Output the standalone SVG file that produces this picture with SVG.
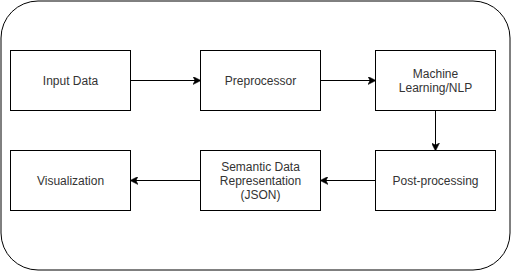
<svg xmlns="http://www.w3.org/2000/svg" width="511" height="271" viewBox="0 0 511 271">
  <style>
    .box { fill: #ffffff; stroke: #000000; stroke-width: 1; }
    .label { font-family: "Liberation Sans", Arial, sans-serif; font-size: 12px; fill: #333333; text-anchor: middle; }
    .edge { fill: none; stroke: #000000; stroke-width: 1; }
  </style>
  <defs>
    <marker id="arrow" viewBox="0 0 8 8" refX="7.5" refY="4" markerWidth="8" markerHeight="8" markerUnits="userSpaceOnUse" orient="auto">
      <path d="M 0 0 L 8 4 L 0 8 L 2 4 Z" fill="#000000" stroke="#000000" stroke-width="0.5"/>
    </marker>
  </defs>
  <rect width="511" height="271" fill="#ffffff"/>
  <!-- enclosing frame -->
  <g id="frame">
    <rect x="1" y="1" width="509" height="269" rx="37" ry="37" class="box"/>
  </g>
  <g id="input-data">
    <rect x="10.5" y="50.5" width="120" height="60" class="box"/>
    <text x="70.5" y="84.5" class="label">Input Data</text>
  </g>
  <g id="preprocessor">
    <rect x="200.5" y="50.5" width="120" height="60" class="box"/>
    <text x="260.5" y="84.5" class="label">Preprocessor</text>
  </g>
  <g id="ml-nlp">
    <rect x="375.5" y="50.5" width="120" height="60" class="box"/>
    <text x="435.5" y="77.5" class="label">Machine</text>
    <text x="435.5" y="91.5" class="label">Learning/NLP</text>
  </g>
  <g id="post-processing">
    <rect x="375.5" y="150.5" width="120" height="60" class="box"/>
    <text x="435.5" y="184.5" class="label">Post-processing</text>
  </g>
  <g id="semantic-data">
    <rect x="200.5" y="150.5" width="120" height="60" class="box"/>
    <text x="260.5" y="170.5" class="label">Semantic Data</text>
    <text x="260.5" y="184.5" class="label">Representation</text>
    <text x="260.5" y="198.5" class="label">(JSON)</text>
  </g>
  <g id="visualization">
    <rect x="10.5" y="150.5" width="120" height="60" class="box"/>
    <text x="70.5" y="184.5" class="label">Visualization</text>
  </g>
  <g id="connectors">
    <path d="M 130.5 80.5 L 200.5 80.5" class="edge" marker-end="url(#arrow)"/>
    <path d="M 320.5 80.5 L 375.5 80.5" class="edge" marker-end="url(#arrow)"/>
    <path d="M 435.5 110.5 L 435.5 150.5" class="edge" marker-end="url(#arrow)"/>
    <path d="M 375.5 180.5 L 320.5 180.5" class="edge" marker-end="url(#arrow)"/>
    <path d="M 200.5 180.5 L 130.5 180.5" class="edge" marker-end="url(#arrow)"/>
  </g>
</svg>
